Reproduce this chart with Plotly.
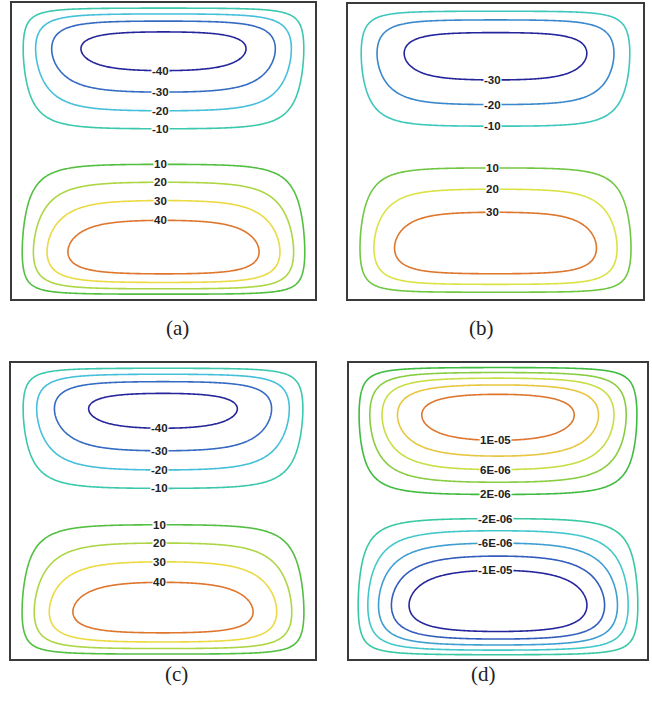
import numpy as np
import plotly.graph_objects as go
from plotly.colors import sample_colorscale

# ---------------- data ----------------
panel_names = ["(a)", "(b)", "(c)", "(d)"]
# value at the centre of the upper cell (lower cell has the opposite sign)
upper_peak = [-45.0, -35.4, -44.0, 1.16e-5]
# thickness of the wall layers (vertical, horizontal)
layer_y = [0.135, 0.16, 0.135, 0.18]
layer_x = [0.165, 0.155, 0.175, 0.2]
zero_line = 0.515   # height of the dividing streamline

levels_a = [-40, -30, -20, -10, 10, 20, 30, 40]
levels_b = [-30, -20, -10, 10, 20, 30]
levels_c = [-40, -30, -20, -10, 10, 20, 30, 40]
levels_d = [-1e-5, -8e-6, -6e-6, -4e-6, -2e-6, 2e-6, 4e-6, 6e-6, 8e-6, 1e-5]

labels_a = [-40, -30, -20, -10, 10, 20, 30, 40]
labels_b = [-30, -20, -10, 10, 20, 30]
labels_c = [-40, -30, -20, -10, 10, 20, 30, 40]
labels_d = [1e-5, 6e-6, 2e-6, -2e-6, -6e-6, -1e-5]
label_text_d = ["1E-05", "6E-06", "2E-06", "-2E-06", "-6E-06", "-1E-05"]

levels_all = [levels_a, levels_b, levels_c, levels_d]
labels_all = [labels_a, labels_b, labels_c, labels_d]
texts_all = [[str(v) for v in labels_a], [str(v) for v in labels_b],
             [str(v) for v in labels_c], label_text_d]

colorscale = [
    [0.0, "#26269c"],
    [0.12, "#3468c2"],
    [0.26, "#46c6dc"],
    [0.40, "#38c8a2"],
    [0.60, "#40bb40"],
    [0.74, "#a6d444"],
    [0.86, "#ece646"],
    [1.0, "#de762e"],
]


def wall(s, d):
    return np.tanh(np.clip(s, 0, None) / d)


n = 241
xs = np.linspace(0, 1, n)
ys = np.linspace(0, 1, n)

W, H = 652, 705
boxes = [(12, 315, 3, 299), (348, 643, 4, 299), (11, 315, 363, 659), (349, 647, 363, 659)]

fig = go.Figure()
label_x = 0.49
col = np.argmin(np.abs(xs - label_x))

for i in range(4):
    ax = "" if i == 0 else str(i + 1)
    G = (ys - zero_line) * wall(ys, layer_y[i]) * wall(1 - ys, layer_y[i])
    F = wall(xs, layer_x[i]) * wall(1 - xs, layer_x[i])
    F = F / F.max()
    G = G / G.max()
    z = upper_peak[i] * np.outer(G, F)

    lv = levels_all[i]
    zmax = max(abs(v) for v in lv)
    for v in lv:
        c = sample_colorscale(colorscale, [(v + zmax) / (2 * zmax)])[0]
        fig.add_trace(go.Contour(
            x=xs, y=ys, z=z,
            xaxis="x" + ax, yaxis="y" + ax,
            autocontour=False,
            contours=dict(start=v, end=v, size=abs(v), coloring="lines"),
            colorscale=[[0, c], [1, c]],
            line=dict(width=1.6, smoothing=1),
            showscale=False, hoverinfo="skip",
        ))
    prof = z[:, col]
    j0 = np.argmin(np.abs(ys - zero_line))
    jtop = np.argmax(np.abs(prof[j0:])) + j0
    jbot = np.argmax(np.abs(prof[:j0]))
    for v, t in zip(labels_all[i], texts_all[i]):
        if np.sign(v) == np.sign(upper_peak[i]):
            seg_y = ys[j0:jtop + 1]
            seg = prof[j0:jtop + 1]
        else:
            seg_y = ys[jbot:j0 + 1][::-1]
            seg = prof[jbot:j0 + 1][::-1]
        yl = float(np.interp(abs(v), np.abs(seg), seg_y))
        fig.add_annotation(
            x=label_x, y=yl, xref="x" + ax, yref="y" + ax, text=t,
            showarrow=False, bgcolor="white", borderpad=0,
            font=dict(family="Liberation Sans", size=11.5, color="#222222", weight="bold"),
        )
    x0, x1, yt, yb = boxes[i]
    axis_style = dict(range=[0, 1], showgrid=False, zeroline=False, showticklabels=False,
                      ticks="", showline=True, mirror=True, linecolor="#3a3a3a", linewidth=1.5)
    fig.update_layout(**{
        "xaxis" + ax: dict(domain=[x0 / W, x1 / W], anchor="y" + ax, **axis_style),
        "yaxis" + ax: dict(domain=[1 - yb / H, 1 - yt / H], anchor="x" + ax, **axis_style),
    })
    fig.add_annotation(
        x=(x0 + x1) / 2 / W, y=1 - (yb + 29) / H, xref="paper", yref="paper",
        text=panel_names[i], showarrow=False,
        font=dict(family="Liberation Serif", size=21, color="#222222"),
    )

fig.update_layout(
    width=W, height=H, margin=dict(l=0, r=0, t=0, b=0),
    paper_bgcolor="white", plot_bgcolor="white", showlegend=False,
)
fig.write_html("out.html")
